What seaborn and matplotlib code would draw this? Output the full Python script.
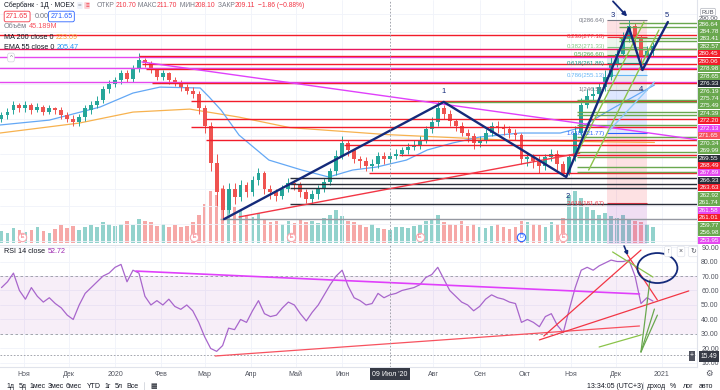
import numpy as np
import pandas as pd
import seaborn as sns
import matplotlib.pyplot as plt
import matplotlib.dates as mdates
from matplotlib.patches import Rectangle, Ellipse

W, H = 720, 390

# candles, one every 4 calendar days starting 2019-10-17
opens = [230, 232, 235, 238, 236, 238, 235, 237, 234, 236,
         235, 232, 230, 228, 231, 235, 238, 241, 247, 250,
         252, 256, 253, 259, 264, 262, 258, 254, 256, 252,
         251, 248, 246, 244, 236, 226, 205, 190, 178, 190,
         185, 192, 188, 195, 199, 190, 188, 186, 190, 193,
         192, 188, 184, 187, 190, 194, 200, 209, 216, 212,
         207, 206, 203, 204, 209, 207, 209, 210, 212, 214,
         215, 218, 224, 228, 236, 233, 229, 226, 222, 220,
         216, 218, 222, 226, 225, 224, 222, 221, 207, 208,
         206, 203, 208, 210, 204, 199, 208, 222, 238, 243,
         244, 248, 254, 262, 267, 276, 283, 276, 266, 269]
highs = [234, 236, 240, 239, 240, 239, 239, 238, 238, 237,
         237, 234, 232, 233, 238, 240, 243, 249, 252, 254,
         258, 258, 261, 268, 265, 263, 259, 258, 257, 254,
         252, 250, 248, 246, 238, 228, 210, 192, 193, 193,
         195, 194, 197, 202, 200, 192, 190, 192, 196, 195,
         194, 190, 189, 192, 196, 202, 212, 220, 218, 213,
         209, 208, 207, 211, 211, 211, 213, 214, 216, 218,
         220, 226, 231, 240, 238, 235, 230, 228, 224, 222,
         220, 224, 228, 229, 227, 226, 224, 222, 211, 210,
         209, 210, 213, 212, 206, 210, 226, 242, 247, 248,
         251, 258, 266, 270, 280, 286.6, 285, 278, 272, 274]
lows = [228, 230, 233, 234, 234, 233, 234, 232, 233, 233,
        230, 228, 226, 226, 229, 233, 236, 239, 245, 248,
        250, 251, 251, 257, 260, 256, 252, 252, 250, 249,
        246, 244, 242, 233, 222, 200, 180, 172, 176, 181,
        183, 185, 186, 192, 187, 184, 183, 184, 188, 189,
        185, 182, 181, 184, 188, 192, 198, 207, 209, 205,
        202, 200, 200, 202, 204, 205, 207, 209, 210, 212,
        213, 216, 222, 226, 230, 226, 223, 220, 217, 213,
        214, 216, 220, 222, 221, 219, 218, 204, 203, 202,
        199, 201, 206, 201, 197, 198, 206, 220, 236, 240,
        241, 246, 252, 260, 265, 274, 270, 258, 263, 266]
closes = [232, 234, 238, 236, 238, 235, 237, 234, 236, 235,
          232, 230, 228, 231, 236, 238, 240, 247, 250, 252,
          256, 253, 259, 264, 262, 258, 254, 256, 252, 251,
          248, 246, 244, 236, 226, 205, 188, 178, 190, 185,
          192, 188, 195, 199, 190, 188, 186, 190, 193, 192,
          188, 184, 187, 190, 194, 200, 209, 216, 212, 207,
          206, 203, 204, 209, 207, 209, 210, 212, 214, 215,
          218, 224, 228, 236, 233, 229, 226, 222, 220, 216,
          218, 222, 226, 225, 224, 222, 221, 207, 208, 206,
          203, 208, 210, 204, 199, 208, 222, 238, 243, 244,
          248, 254, 262, 267, 276, 283, 276, 266, 269, 271.65]
volumes = [40, 35, 50, 45, 38, 42, 55, 40, 35, 48,
           60, 50, 58, 45, 52, 60, 55, 70, 62, 58,
           65, 72, 60, 80, 75, 70, 58, 62, 55, 60,
           52, 58, 70, 95, 130, 175, 160, 185, 140, 120,
           110, 95, 88, 100, 80, 70, 75, 65, 72, 68,
           80, 70, 75, 68, 85, 95, 110, 90, 75, 70,
           60, 55, 62, 50, 48, 45, 52, 55, 50, 58,
           60, 75, 80, 95, 70, 65, 60, 72, 58, 62,
           55, 50, 58, 62, 55, 48, 52, 75, 70, 65,
           60, 55, 70, 62, 85, 160, 175, 150, 120, 110,
           95, 100, 90, 85, 95, 80, 75, 70, 65, 55]
rsi = [62, 66, 72, 60, 54, 62, 56, 52, 55, 51,
       48, 43, 40, 50, 58, 62, 66, 70, 72, 76,
       78, 66, 74, 72, 56, 50, 53, 50, 54, 49,
       47, 50, 46, 38, 28, 20, 18, 22, 34, 33,
       40, 38, 46, 53, 44, 42, 43, 48, 52, 50,
       44, 39, 45, 50, 57, 64, 70, 74, 63, 55,
       53, 50, 51, 58, 55, 57, 58, 60, 61, 62,
       64, 69, 71, 76, 68, 60, 56, 52, 50, 46,
       49, 54, 57, 55, 54, 52, 51, 38, 40, 38,
       35, 42, 44, 36, 31, 47, 62, 74, 76, 74,
       77, 79, 81, 80, 80, 81, 70, 51, 55, 52.72]
candle_dates = pd.date_range('2019-10-17', periods=len(closes), freq='4D')

ema_dates = ['2019-10-16', '2019-11-18', '2019-12-22', '2020-01-13', '2020-01-31', '2020-02-27',
             '2020-03-04', '2020-03-12', '2020-03-24', '2020-04-13', '2020-05-05', '2020-05-23',
             '2020-06-08', '2020-06-24', '2020-07-14', '2020-07-28', '2020-08-14', '2020-09-01',
             '2020-09-28', '2020-10-25', '2020-11-07', '2020-11-27', '2020-12-27']
ema55 = [226.5, 229.3, 236.8, 244.8, 248.2, 247.7, 242.5, 235.0, 220.7, 206.4, 200.7, 196.7,
         200.7, 202.4, 206.4, 212.2, 216.2, 219.6, 221.9, 221.9, 224.8, 235.0, 249.4]
ma_dates = ['2019-10-16', '2019-12-08', '2020-01-13', '2020-02-20', '2020-03-24', '2020-04-27',
            '2020-07-01', '2020-09-28', '2020-12-27']
ma200 = [221.9, 227.6, 233.9, 235.6, 231.0, 225.0, 221.0, 217.5, 216.5]

# horizontal levels drawn on the chart
hl_levels = [278.0, 270.0, 265.4, 259.1, 251.1, 266.0, 261.4, 258.6, 250.5, 240.2, 229.9, 225.3,
             217.9, 215.0, 209.3, 199.0, 196.1, 192.7, 190.4, 181.2, 172.6,
             240.8, 233.9, 232.2, 226.5, 219.6, 211.0, 208.1, 202.4, 199.5, 239.7,
             284.8, 282.6, 276.2, 274.4, 270.3]
hl_starts = ['2019-10-01', '2019-10-01', '2019-10-01', '2019-10-01', '2019-10-01', '2020-01-17',
             '2020-01-19', '2020-01-22', '2020-01-26', '2020-02-21', '2020-03-02', '2020-02-21',
             '2020-03-02', '2020-06-02', '2020-07-09', '2020-06-19', '2020-04-27', '2020-04-27',
             '2020-04-27', '2020-04-27', '2020-03-11',
             '2020-11-05', '2020-11-05', '2020-11-05', '2020-11-05', '2020-11-05', '2020-11-05',
             '2020-11-05', '2020-11-05', '2020-11-05', '2020-08-08',
             '2020-12-03', '2020-12-03', '2020-12-03', '2020-12-03', '2020-12-03']
hl_kinds = ['r', 'c', 'm', 'm', 'm', 'r', 'r', 'r', 'r', 'r', 'r', 'r',
            'r', 'r', 'r', 'r', 'k', 'k', 'k', 'k', 'y',
            'g', 'g', 'g', 'g', 'g', 'g', 'g', 'g', 'g', 'g',
            'g', 'g', 'g', 'g', 'g']

# fibonacci retracement
fib_ratios = [0, 0.236, 0.382, 0.5, 0.618, 0.786, 1, 1.618, 2.618, 3.618]
fib_prices = [286.64, 277.18, 271.33, 266.60, 261.86, 255.13, 246.55, 221.77, 181.67, 141.58]
fib_span = ['2020-11-25', '2020-12-22']

# Elliott count and trend lines
wave_dates = ['2020-03-14', '2020-08-08', '2020-10-29', '2020-12-10', '2020-12-19', '2021-01-05']
wave_prices = [172.6, 239.7, 196.7, 282.1, 258.0, 285.5]
wave_labels = ['1', '2', '3', '4', '5']
wave_label_dates = ['2020-08-08', '2020-10-30', '2020-11-29', '2020-12-18', '2021-01-04']
wave_label_prices = [245.5, 185.8, 289.5, 247.1, 289.5]
tl_start = ['2020-01-19', '2020-03-24', '2020-11-03', '2020-11-13', '2020-11-27']
tl_start_val = [262.6, 173.8, 206.4, 200.7, 223.6]
tl_end = ['2021-01-26', '2020-11-07', '2020-12-20', '2020-12-30', '2020-12-27']
tl_end_val = [217.9, 210.4, 285.5, 280.9, 251.1]
tl_colors = ['#e040fb', '#f23645', '#8bc34a', '#8bc34a', '#90caf9']

rl_start = ['2020-01-15', '2020-03-08', '2020-10-11', '2020-10-14', '2020-12-09',
            '2020-11-29', '2020-11-20', '2020-12-18', '2020-12-18', '2020-12-18']
rl_start_val = [73.4, 14.8, 25.9, 28.6, 84.5, 86.6, 21.0, 17.6, 17.6, 17.6]
rl_end = ['2020-12-17', '2020-12-17', '2021-01-19', '2020-12-18', '2020-12-29',
          '2020-12-26', '2020-12-18', '2020-12-27', '2020-12-29', '2020-12-24']
rl_end_val = [57.6, 35.5, 59.7, 87.9, 53.4, 69.3, 29.3, 47.2, 43.0, 67.2]
rl_colors = ['#e040fb', '#f7525f', '#f23645', '#f23645', '#f23645',
             '#8bc34a', '#8bc34a', '#6aa84f', '#6aa84f', '#6aa84f']

event_dates = ['2019-10-31', '2020-02-23', '2020-04-28', '2020-07-23', '2020-09-29', '2020-10-27']
event_kinds = ['E', 'E', 'E', 'E', 'D', 'E']

axis_values = [286.64, 284.78, 283.41, 282.57, 280.45, 280.06, 278.98, 278.65, 276.33, 276.19,
               275.74, 275.49, 274.39, 272.20, 272.13, 271.65, 270.34, 269.99, 269.55, 268.49,
               267.89, 266.33, 263.63, 262.92, 261.74, 261.58, 261.01, 259.77, 256.98, 253.95]
axis_kinds = ['g', 'g', 'g', 'g', 'r', 'r', 'g', 'g', 'k', 'g', 'g', 'g', 'g', 'r', 'm',
              'p', 'g', 'g', 'k', 'r', 'm', 'k', 'r', 'g', 'g', 'm', 'r', 'g', 'g', 'm']

# July label is hidden under the crosshair date in the reference
month_dates = ['2019-11-01', '2019-12-01', '2020-01-01', '2020-02-01', '2020-03-01', '2020-04-01',
               '2020-05-01', '2020-06-01', '2020-08-01', '2020-09-01', '2020-10-01',
               '2020-11-01', '2020-12-01', '2021-01-01']
month_labels = ['Ноя', 'Дек', '2020', 'Фев', 'Мар', 'Апр', 'Май', 'Июн', 'Авг', 'Сен',
                'Окт', 'Ноя', 'Дек', '2021']

kind_colors = {'r': '#f21c2a', 'c': '#e8175d', 'm': '#e548f0', 'k': '#2a2e39', 'y': '#9598a1',
               'g': '#6aa84f', 'p': '#f7525f'}
fib_colors = ['#787b86', '#f23645', '#81c784', '#4caf50', '#089981', '#64b5f6',
              '#787b86', '#2962ff', '#f23645', '#9c27b0']
UP, DN = '#26a69a', '#ef5350'
NAVY = '#142a7a'
GRID = '#f0f3fa'

sns.set_style('white')
plt.rcParams['font.family'] = ['Liberation Sans', 'DejaVu Sans']


def dn(s):
    return mdates.date2num(pd.to_datetime(s))


def fy(py):
    return 1 - py / H


fig = plt.figure(figsize=(W / 100, H / 100), dpi=100)
ax_v = fig.add_axes([0, fy(243), 697 / W, 243 / H])
ax_p = fig.add_axes([0, fy(243), 697 / W, 243 / H])
ax_r = fig.add_axes([0, fy(367), 697 / W, 122 / H])

x_left = dn('2019-10-16')
x_right = x_left + 466.5
for ax in (ax_v, ax_p, ax_r):
    ax.set_xlim(x_left, x_right)
ax_p.set_ylim(158.9, 298.1)
ax_v.set_ylim(0, 810)
ax_r.set_ylim(7.2, 91.4)
ax_p.patch.set_visible(False)

xs = mdates.date2num(candle_dates)
o, c = np.array(opens), np.array(closes)
cols = np.where(c >= o, UP, DN)
month_x = dn(month_dates)

# volume
ax_v.bar(xs, volumes, width=2.4, color=cols, alpha=0.5, linewidth=0)
ax_v.axis('off')

# grid
ax_p.set_xticks(month_x)
ax_p.set_yticks(np.arange(160, 300, 10))
ax_p.grid(color=GRID, linewidth=0.6)
ax_p.tick_params(left=False, bottom=False, labelleft=False, labelbottom=False)
for s in ('left', 'top', 'bottom'):
    ax_p.spines[s].set_visible(False)
ax_p.spines['right'].set_color('#e0e3eb')

# fibonacci zone
f0, f1 = dn(fib_span[0]), dn(fib_span[1])
for i in range(len(fib_prices) - 1):
    ax_p.fill_between([f0, f1], fib_prices[i + 1], fib_prices[i], color=fib_colors[i + 1],
                      alpha=0.15, linewidth=0, zorder=1)
ax_p.hlines(fib_prices, f0, f1, colors=fib_colors, linewidth=0.8, zorder=2)
for r, p, col in zip(fib_ratios, fib_prices, fib_colors):
    ax_p.text(f0 - 1, p, f'{r:g}({p:.2f})', ha='right', va='center', fontsize=4.4,
              color=col, clip_on=True, zorder=6)

# moving averages
sns.lineplot(x=dn(ma_dates), y=ma200, ax=ax_p, color='#f7b24f', linewidth=0.9)
sns.lineplot(x=dn(ema_dates), y=ema55, ax=ax_p, color='#64a8f5', linewidth=0.9)

# candles
ax_p.vlines(xs, lows, highs, colors=cols, linewidth=0.7, zorder=3)
ax_p.bar(xs, np.maximum(np.abs(c - o), 0.4), bottom=np.minimum(o, c), width=2.6,
         color=cols, linewidth=0, zorder=3)

# horizontal levels
ax_p.hlines(hl_levels, dn(hl_starts), x_right, colors=[kind_colors[k] for k in hl_kinds],
            linewidth=1.0, zorder=4)

# trend lines
for a, av, b, bv, col in zip(tl_start, tl_start_val, tl_end, tl_end_val, tl_colors):
    ax_p.plot([dn(a), dn(b)], [av, bv], color=col, linewidth=1.0, zorder=5)
ax_p.plot(dn(wave_dates), wave_prices, color=NAVY, linewidth=1.7, zorder=6)
for lab, d, p in zip(wave_labels, wave_label_dates, wave_label_prices):
    ax_p.text(dn(d), p, lab, color=NAVY, fontsize=5.5, ha='center', va='center', zorder=7)
ax_p.annotate('', xy=(dn('2020-12-10'), 287.5), xytext=(dn('2020-11-28'), 298.5),
              arrowprops=dict(arrowstyle='-|>', color=NAVY, lw=1.3, mutation_scale=6),
              annotation_clip=False, zorder=7)

# crosshair
cross_x = dn('2020-07-03')
for ax in (ax_p, ax_r):
    ax.axvline(cross_x, color='#9598a1', linewidth=0.6, linestyle=(0, (2, 2)), zorder=8)

# event markers
trans = ax_p.get_xaxis_transform()
for d, k in zip(event_dates, event_kinds):
    edge = '#2962ff' if k == 'D' else '#f7a9b0'
    tcol = '#2962ff' if k == 'D' else '#f7525f'
    ax_p.scatter([dn(d)], [0.026], s=36, transform=trans, facecolor='white', edgecolor=edge,
                 linewidth=0.8, zorder=9, clip_on=False)
    ax_p.text(dn(d), 0.026, k, transform=trans, fontsize=3.8, color=tcol, ha='center',
              va='center', zorder=10)

# RSI panel
ax_r.axhspan(30, 70, color='#9c27b0', alpha=0.08, linewidth=0)
for lvl in (30, 70):
    ax_r.axhline(lvl, color='#9598a1', linewidth=0.6, linestyle=(0, (3, 3)))
sns.lineplot(x=xs, y=rsi, ax=ax_r, color='#a866cc', linewidth=0.9)
for a, av, b, bv, col in zip(rl_start, rl_start_val, rl_end, rl_end_val, rl_colors):
    lw = 1.2 if col == '#e040fb' else 0.9
    ax_r.plot([dn(a), dn(b)], [av, bv], color=col, linewidth=lw, zorder=5)
ax_r.add_patch(Ellipse((dn('2020-12-29'), 75.5), 26.8, 20.7, fill=False, edgecolor=NAVY,
                       linewidth=1.3, zorder=6))
ax_r.annotate('', xy=(dn('2020-12-10'), 82.4), xytext=(dn('2020-12-06'), 92.5),
              arrowprops=dict(arrowstyle='-|>', color=NAVY, lw=1.2, mutation_scale=5),
              annotation_clip=False)
ax_r.axhline(15.49, color='#9598a1', linewidth=0.6, linestyle=(0, (2, 2)))
ax_r.set_xticks(month_x)
ax_r.set_xticklabels(month_labels)
ax_r.set_yticks(np.arange(10, 100, 10))
ax_r.set_yticklabels([f'{v:.2f}' for v in np.arange(10, 100, 10)])
ax_r.yaxis.tick_right()
ax_r.tick_params(length=0, labelsize=5, colors='#50535e', pad=3)
ax_r.grid(color=GRID, linewidth=0.6)
ax_r.spines['left'].set_visible(False)
for s in ('top', 'right', 'bottom'):
    ax_r.spines[s].set_color('#e0e3eb')
ax_r.set_xlabel('')
ax_r.set_ylabel('')
ax_p.set_xlabel('')
ax_p.set_ylabel('')

# price-axis labels stacked on the right
for i, (v, k) in enumerate(zip(axis_values, axis_kinds)):
    yc = 24 + i * 7.45
    fig.add_artist(Rectangle((698 / W, fy(yc + 3.5)), 22 / W, 7 / H, transform=fig.transFigure,
                             facecolor=kind_colors[k], edgecolor='none'))
    fig.text(709 / W, fy(yc), f'{v:.2f}', color='white', fontsize=4.6, ha='center', va='center')
fig.text(709 / W, fy(18.5), '290.00', color='#50535e', fontsize=4.6, ha='center', va='center')
fig.text(708 / W, fy(12), 'RUB', color='#50535e', fontsize=4.2, ha='center', va='center',
         bbox=dict(boxstyle='round,pad=0.2', fc='white', ec='#b2b5be', lw=0.5))

renderer = fig.canvas.get_renderer()


def seq_text(x, y, parts, size=5.2, gap=1.5):
    for s, col, box in parts:
        kw = {}
        if box:
            kw['bbox'] = dict(boxstyle='round,pad=0.25', fc='white', ec=box, lw=0.6)
        t = fig.text(x / W, fy(y), s, color=col, fontsize=size, ha='left', va='center', **kw)
        bb = t.get_window_extent(renderer)
        x = bb.x1 + gap + (5 if box else 0)
    return x


GREYT, DARK, RED = '#787b86', '#131722', '#f23645'
x_end = seq_text(4, 5.5, [('Сбербанк · 1Д · MOEX', DARK, None)], size=4.9)
fig.text((x_end + 4) / W, fy(5.5), '=', color=GREYT, fontsize=4.5, ha='center', va='center',
         bbox=dict(boxstyle='round,pad=0.15', fc='#f0f3fa', ec='none'))
fig.text((x_end + 11) / W, fy(5.5), '≡', color=RED, fontsize=4.5, ha='center', va='center',
         bbox=dict(boxstyle='round,pad=0.15', fc='#fbd0d4', ec='none'))
seq_text(max(97, x_end + 19), 5.5,
         [('ОТКР', GREYT, None), ('210.70', RED, None), (' МАКС', GREYT, None),
          ('211.70', RED, None), (' МИН', GREYT, None), ('208.10', RED, None),
          (' ЗАКР', GREYT, None), ('209.11', RED, None), (' −1.86 (−0.88%)', RED, None)],
         size=4.9, gap=0.3)
seq_text(6, 16.5, [('271.65', RED, RED), ('0.00', GREYT, None), ('271.65', '#2962ff', '#2962ff')])
seq_text(4, 27, [('Объём', GREYT, None), ('45.189M', '#f7525f', None)], gap=2)
seq_text(4, 37.5, [('MA 200 close 0', DARK, None), ('223.09', '#f7a23b', None)], gap=2.5)
seq_text(4, 47.5, [('EMA 55 close 0', DARK, None), ('205.47', '#2196f3', None)], gap=2.5)
fig.text(11 / W, fy(57.5), '^', color=GREYT, fontsize=4.5, ha='center', va='center',
         bbox=dict(boxstyle='round,pad=0.3', fc='white', ec='#d1d4dc', lw=0.5))
seq_text(4, 251.5, [('RSI 14 close', DARK, None), ('52.72', '#9c27b0', None)], gap=2.5)
for px, s in zip([668, 681, 693], ['↑', '×', '↻']):
    fig.text(px / W, fy(251.5), s, color='#50535e', fontsize=5, ha='center', va='center',
             bbox=dict(boxstyle='round,pad=0.25', fc='white', ec='#e0e3eb', lw=0.5))

# crosshair labels
fig.text(390 / W, fy(374), "09 Июл '20", color='white', fontsize=5, ha='center', va='center',
         bbox=dict(boxstyle='square,pad=0.35', fc='#363a45', ec='none'))
fig.text(709 / W, fy(356), '15.49', color='white', fontsize=4.8, ha='center', va='center',
         bbox=dict(boxstyle='square,pad=0.3', fc='#363a45', ec='none'))
fig.text(692 / W, fy(356), '+', color='white', fontsize=5, ha='center', va='center',
         bbox=dict(boxstyle='square,pad=0.15', fc='#50535e', ec='none'))

# bottom toolbar
for px, s in zip([10, 22.5, 37.5, 56, 74, 94, 107.5, 119, 132.5],
                 ['1д', '5д', '1мес', '3мес', '6мес', 'YTD', '1г', '5л', 'Все']):
    fig.text(px / W, fy(386.5), s, color=DARK, fontsize=5, ha='center', va='center')
fig.text(154 / W, fy(386.5), '▦', color=DARK, fontsize=5, ha='center', va='center')
fig.add_artist(plt.Line2D([144 / W, 144 / W], [fy(382), fy(390)], color='#d1d4dc', lw=0.6))
for px, s in zip([615.5, 656, 673, 688.5, 706],
                 ['13:34:05 (UTC+3)', 'доход', '%', 'лог', 'авто']):
    fig.text(px / W, fy(386.5), s, color=DARK, fontsize=5, ha='center', va='center')
fig.add_artist(plt.Line2D([643 / W, 643 / W], [fy(382), fy(390)], color='#d1d4dc', lw=0.6))
fig.text(709 / W, fy(374), '⚙', color='#50535e', fontsize=6, ha='center', va='center')

fig.savefig('out.png', dpi=100, facecolor='white')
